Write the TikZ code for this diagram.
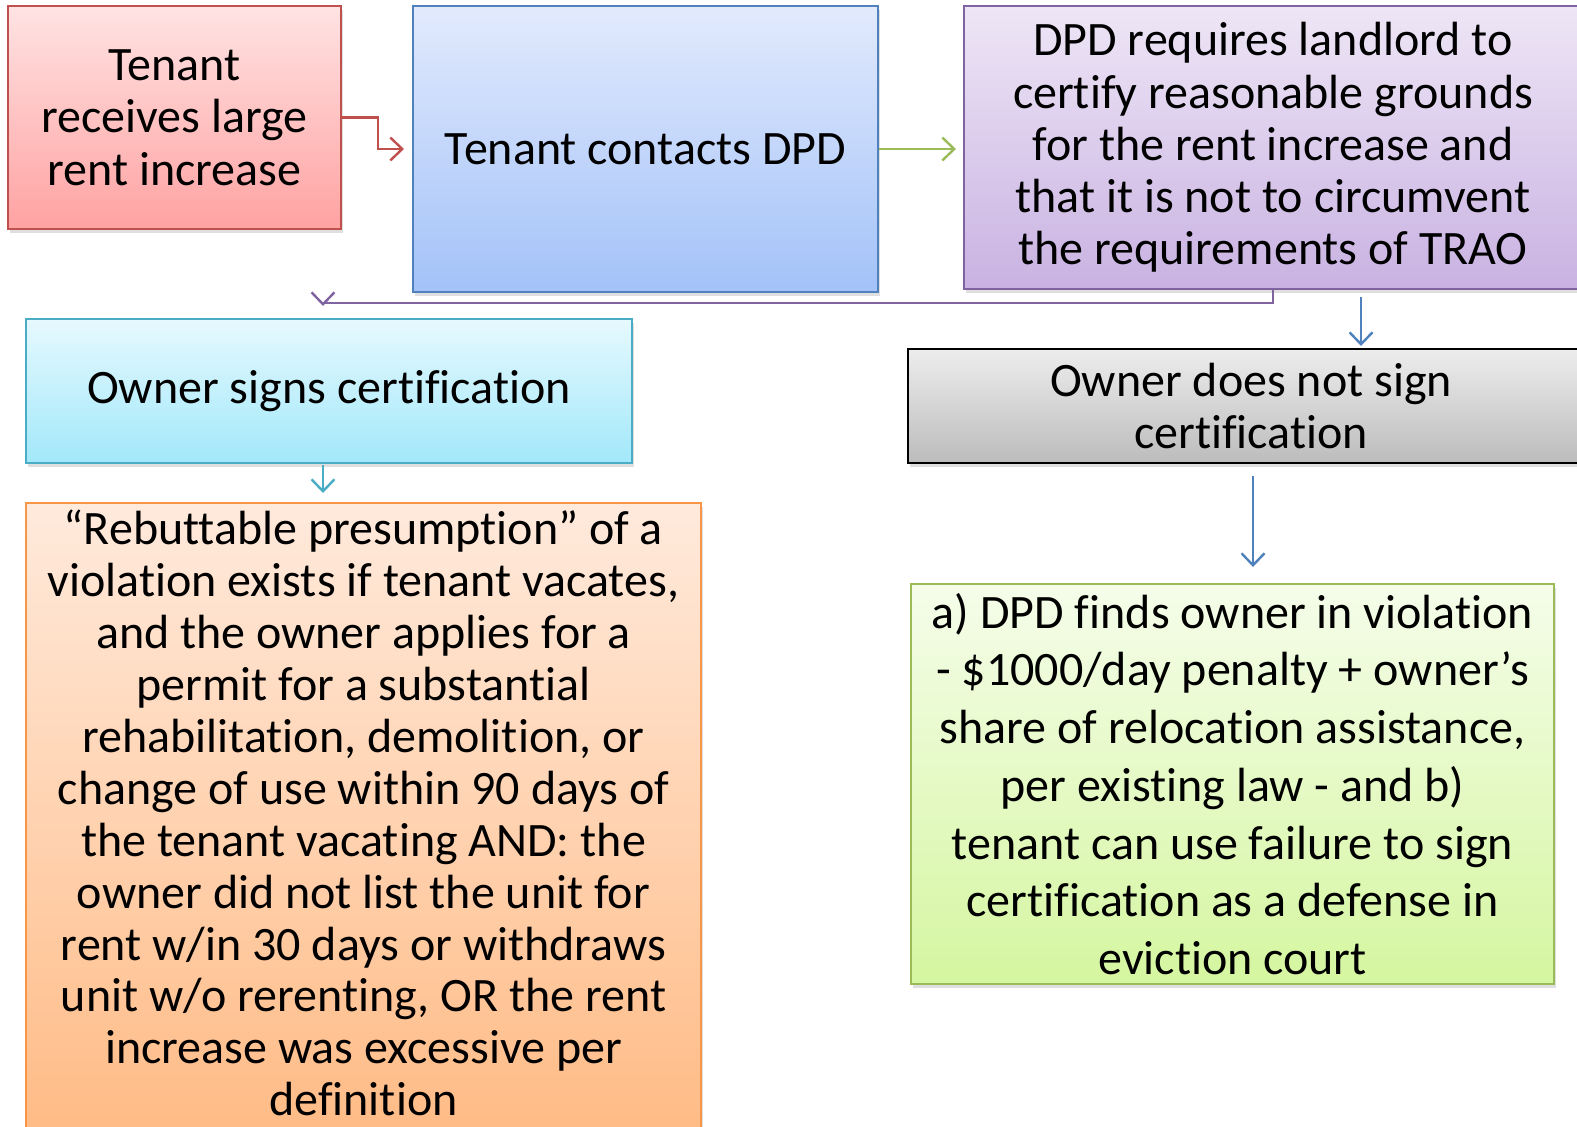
\documentclass[tikz,border=0pt]{standalone}
\usepackage{fontspec}
\setmainfont{Carlito}[Ligatures={NoCommon,NoContextual,NoRare}]
\usetikzlibrary{arrows.meta,shadows}
\definecolor{redB}{HTML}{C0504D}
\definecolor{redT}{HTML}{FFE3E3}
\definecolor{redL}{HTML}{FFA2A2}
\definecolor{bluB}{HTML}{4F81BD}
\definecolor{bluT}{HTML}{E2EAFD}
\definecolor{bluL}{HTML}{A3C2F8}
\definecolor{purB}{HTML}{8064A2}
\definecolor{purT}{HTML}{EEE6F6}
\definecolor{purL}{HTML}{C9B2E2}
\definecolor{cyaB}{HTML}{4BACC6}
\definecolor{cyaT}{HTML}{E6F9FE}
\definecolor{cyaL}{HTML}{A2E8FA}
\definecolor{graT}{HTML}{EDEDED}
\definecolor{graL}{HTML}{BCBCBC}
\definecolor{oraB}{HTML}{F79646}
\definecolor{oraT}{HTML}{FFEADC}
\definecolor{oraL}{HTML}{FFB67C}
\definecolor{greB}{HTML}{9BBB59}
\definecolor{greT}{HTML}{F5FDEA}
\definecolor{greL}{HTML}{D5F6A0}
\tikzset{
  box/.style={draw, line width=2pt, rectangle, inner sep=0pt, align=center,
    drop shadow={shadow xshift=2pt, shadow yshift=-4pt, opacity=0.25},
    font=\fontsize{48}{52.3}\selectfont},
  conn/.style={line width=2.4pt, -{Straight Barb[length=12pt,width=23pt,line width=2.4pt]}},
}
\begin{document}
\begin{tikzpicture}[x=1pt,y=-1pt]
\useasboundingbox (0,0) rectangle (1577,1127);
\clip (0,0) rectangle (1577,1127);
% boxes
\node[box, draw=redB, top color=redT, bottom color=redL, minimum width=333, minimum height=223] (red) at (174.5,117.5) {Tenant\\receives large\\rent increase};
\node[box, draw=bluB, top color=bluT, bottom color=bluL, minimum width=465, minimum height=286] (blue) at (645.5,149) {Tenant contacts DPD};
\node[box, draw=purB, top color=purT, bottom color=purL, minimum width=618, minimum height=283] (purple) at (1273,147.5) {DPD requires landlord to\\certify reasonable grounds\\for the rent increase and\\that it is not to circumvent\\the requirements of TRAO};
\node[box, draw=cyaB, top color=cyaT, bottom color=cyaL, minimum width=606, minimum height=144] (cyan) at (329,391) {Owner signs certification};
\node[box, draw=black, top color=graT, bottom color=graL, minimum width=686, minimum height=114] (gray) at (1251,406) {Owner does not sign\\certification};
\node[box, draw=oraB, top color=oraT, bottom color=oraL, minimum width=675, minimum height=700] (orange) at (363.5,853) {};
\node[anchor=north, align=center, inner sep=0pt, font=\fontsize{48}{51.9}\selectfont] (oratext) at (363.5,510) {“Rebuttable presumption” of a\\violation exists if tenant vacates,\\and the owner applies for a\\permit for a substantial\\rehabilitation, demolition, or\\change of use within 90 days of\\the tenant vacating AND: the\\owner did not list the unit for\\rent w/in 30 days or withdraws\\unit w/o rerenting, OR the rent\\increase was excessive per\\definition};
\node[box, draw=greB, top color=greT, bottom color=greL, minimum width=643, minimum height=400, font=\fontsize{48}{57.7}\selectfont] (green) at (1232.5,784) {a) DPD finds owner in violation\\- \$1000/day penalty + owner’s\\share of relocation assistance,\\per existing law - and b)\\tenant can use failure to sign\\certification as a defense in\\eviction court};
% connector end points
\coordinate (gtop) at (1361,297);
\coordinate (gbot) at (1361,346);
\coordinate (ctop) at (323,465);
\coordinate (cbot) at (323,493);
\coordinate (hbot) at (1253,476);
\coordinate (htip) at (1253,567);
% connectors
\draw[conn, draw=redB] (red.east) -- ++(36,0) |- ([xshift=-8pt]blue.west);
\draw[conn, draw=greB] (blue.east) -- ([xshift=-7pt]purple.west |- blue.east);
\draw[conn, draw=purB] (purple.south) -- ++(0,13) -| (323,306);
\draw[conn, draw=bluB] (gtop) -- (gbot);
\draw[conn, draw=cyaB] (ctop) -- (cbot);
\draw[conn, draw=bluB] (hbot) -- (htip);
\end{tikzpicture}
\end{document}
